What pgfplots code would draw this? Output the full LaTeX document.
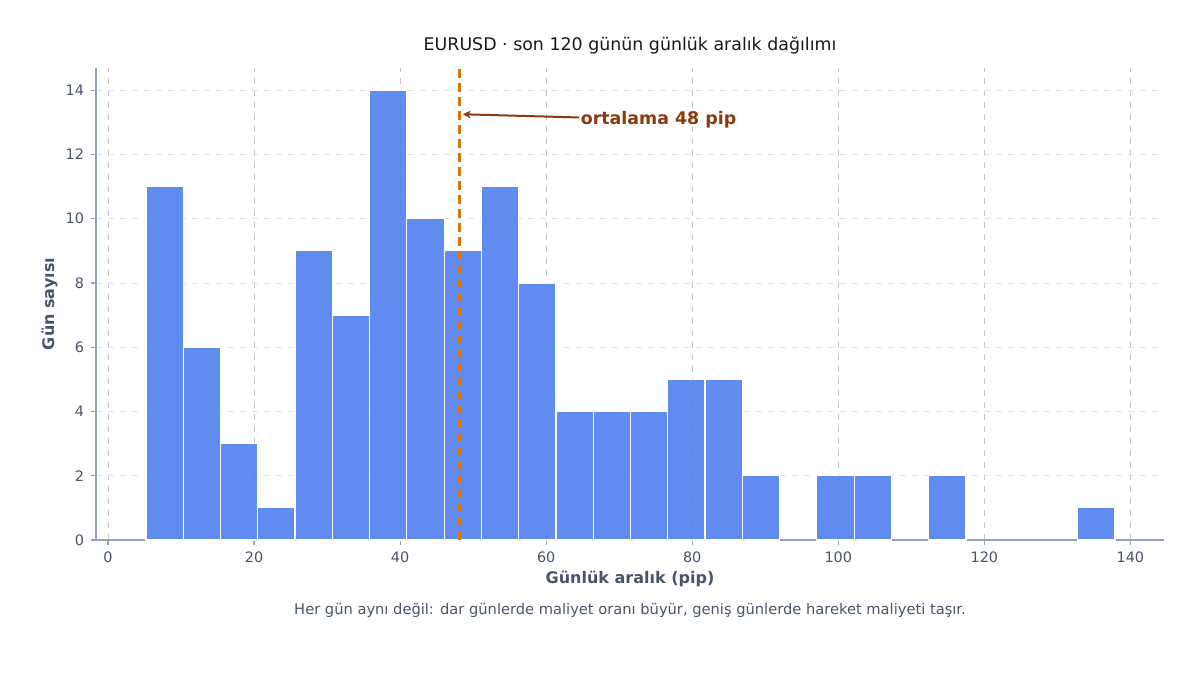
\documentclass[border=0pt]{standalone}
\usepackage{pgfplots}
\pgfplotsset{compat=1.18}
\usetikzlibrary{arrows.meta}
\usepackage{fontspec}
\setmainfont{DejaVu Sans}
\definecolor{barblue}{HTML}{4F7FEF}
\definecolor{spine}{HTML}{94A3B8}
\definecolor{txt}{HTML}{475569}
\definecolor{meanc}{HTML}{D97706}
\definecolor{annc}{HTML}{8B3A0E}
\tikzset{histbar/.style={ybar interval, fill=barblue, fill opacity=0.9, draw=white, line width=0.6pt, mark=none}}
\begin{document}
\begin{tikzpicture}
\path[use as bounding box] (0pt,0pt) rectangle (600pt,337.5pt);
\begin{axis}[
  at={(48pt,67.5pt)}, anchor=south west,
  scale only axis, width=534pt, height=236pt,
  xmin=-1.64, xmax=144.6, ymin=0, ymax=14.69,
  xtick={0,20,...,140}, ytick={0,2,...,14},
  axis x line*=bottom, axis y line*=left,
  axis line style={spine, line width=0.8pt},
  tick style={spine, line width=0.6pt},
  tick align=outside, major tick length=2.5pt,
  tick label style={font=\fontsize{7.2}{8}\selectfont, text=txt},
  /pgf/number format/assume math mode=true,
  xlabel={\textbf{Günlük aralık (pip)}},
  ylabel={\textbf{Gün sayısı}},
  label style={font=\fontsize{8}{9}\selectfont, text=txt},
  xlabel style={yshift=3pt},
  ylabel style={yshift=-3pt},
  grid=major,
  x grid style={dashed, gray!45, line width=0.4pt},
  y grid style={dashed, gray!20, line width=0.4pt},
  clip=false,
]
\addplot[histbar] coordinates {
(5.20,11) (10.30,6) (15.41,3) (20.51,1) (25.62,9) (30.72,7) (35.82,14)
(40.93,10) (46.03,9) (51.14,11) (56.24,8) (61.34,4) (66.45,4) (71.55,4)
(76.66,5) (81.76,5) (86.86,2) (91.97,2)
};
\addplot[histbar] coordinates {(97.07,2) (102.18,2) (107.28,2)};
\addplot[histbar] coordinates {(112.38,2) (117.49,2)};
\addplot[histbar] coordinates {(132.80,1) (137.90,1)};
\end{axis}
\begin{axis}[
  at={(48pt,67.5pt)}, anchor=south west,
  scale only axis, width=534pt, height=236pt,
  xmin=-1.64, xmax=144.6, ymin=0, ymax=14.69,
  hide axis, clip=false,
]
\addplot[meanc, line width=1.5pt, dash pattern=on 4.5pt off 2.5pt, mark=none] coordinates {(48.2,0) (48.2,14.69)};
\draw[annc, line width=1pt, -{Stealth[length=4pt,width=4pt]}] (axis cs:64.5,13.15) -- (axis cs:48.6,13.25);
\node[anchor=west, text=annc, font=\fontsize{8.7}{10}\selectfont\bfseries, inner sep=0pt] at (axis cs:64.7,13.07) {ortalama 48 pip};
\end{axis}
\node[font=\fontsize{8.7}{10}\selectfont, text=black!90] at (315pt,315pt) {EURUSD · son 120 günün günlük aralık dağılımı};
\node[font=\fontsize{7.33}{8}\selectfont, text=txt] at (315pt,32.5pt) {Her gün aynı değil: dar günlerde maliyet oranı büyür, geniş günlerde hareket maliyeti taşır.};
\end{tikzpicture}
\end{document}
